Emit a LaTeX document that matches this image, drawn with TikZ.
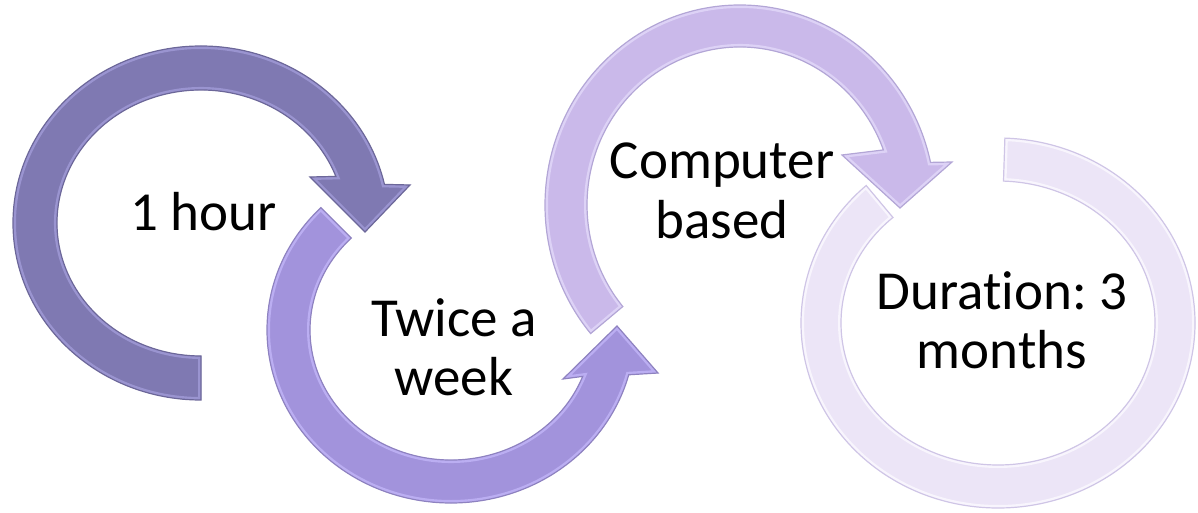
\documentclass[tikz,border=0pt]{standalone}
\usepackage{fontspec}
\setmainfont{Carlito}[Ligatures=NoCommon]
\usetikzlibrary{calc}

\definecolor{ringAfill}{HTML}{7F79B2}
\definecolor{ringArim}{HTML}{9A94D0}
\definecolor{ringAedge}{HTML}{6C6799}
\definecolor{ringBfill}{HTML}{A293DC}
\definecolor{ringBrim}{HTML}{BBAEF2}
\definecolor{ringBedge}{HTML}{8E82C0}
\definecolor{ringCfill}{HTML}{CAB9EA}
\definecolor{ringCrim}{HTML}{DDD2F6}
\definecolor{ringCedge}{HTML}{B3A6D6}
\definecolor{ringDfill}{HTML}{ECE5F7}
\definecolor{ringDrim}{HTML}{F8F5FD}
\definecolor{ringDedge}{HTML}{CFC5E6}

\tikzset{
  steptext/.style={anchor=base, align=center, inner sep=0pt, text=black,
    font=\fontsize{27.5}{29.5}\selectfont\frenchspacing},
}

% fill a saved ring path, add a soft rim inside it and a thin outline
\newcommand\shadedring[4]{%
  \begin{scope}
    \clip[use path=#1];
    \fill[#2, use path=#1];
    \draw[#3, line width=3pt, use path=#1];
  \end{scope}
  \draw[#4, line width=0.6pt, use path=#1];
}

\begin{document}
\begin{tikzpicture}[x=0.5pt, y=-0.5pt]
\useasboundingbox (0,0) rectangle (1198,513);

% ring 1: clockwise, tail at the bottom, head pointing down on the right
\path[save path=\ringone]
  ($(201,223)+(90:188 and 177)$)
    arc[start angle=90, end angle=347.4, x radius=188, y radius=177]
  -- (410,185) -- (365,232) -- (310,177)
  -- ($(201,223)+(339.5:144 and 133)$)
    arc[start angle=339.5, end angle=90, x radius=144, y radius=133]
  -- cycle;

% ring 2: counter-clockwise, head pointing up on the right
\path[save path=\ringtwo]
  ($(451,330)+(225:184 and 173)$)
    arc[start angle=225, end angle=15, x radius=184, y radius=173]
  -- (658,373) -- (617,326) -- (563,379)
  -- ($(451,330)+(20.9:141 and 130)$)
    arc[start angle=20.9, end angle=225, x radius=141, y radius=130]
  -- cycle;

% ring 3: clockwise, head pointing down on the right
\path[save path=\ringthree]
  ($(740,205)+(140:195 and 200)$)
    arc[start angle=140, end angle=347.7, x radius=195, y radius=200]
  -- (952,162) -- (900,208) -- (842,155)
  -- ($(740,205)+(339.6:153 and 158)$)
    arc[start angle=339.6, end angle=140, x radius=153, y radius=158]
  -- cycle;

% ring 4: open ring without a head
\path[save path=\ringfour]
  ($(998,323)+(272:197 and 185)$)
    arc[start angle=272, end angle=588, x radius=197, y radius=185]
  -- ($(998,323)+(588:157 and 142)$)
    arc[start angle=588, end angle=272, x radius=157, y radius=142]
  -- cycle;

\shadedring{\ringfour}{ringDfill}{ringDrim}{ringDedge}
\shadedring{\ringthree}{ringCfill}{ringCrim}{ringCedge}
\shadedring{\ringtwo}{ringBfill}{ringBrim}{ringBedge}
\shadedring{\ringone}{ringAfill}{ringArim}{ringAedge}

% the base anchor of a two-line node sits on its last line
\node[steptext] (hour) at (203.5,231) {1 hour};
\node[steptext] (week) at (454,395) {Twice a\\week};
\node[steptext] (computer) at (722,238) {Computer\\based};
\node[steptext] (duration) at (1002,368) {Duration: 3\\months};
\end{tikzpicture}
\end{document}
